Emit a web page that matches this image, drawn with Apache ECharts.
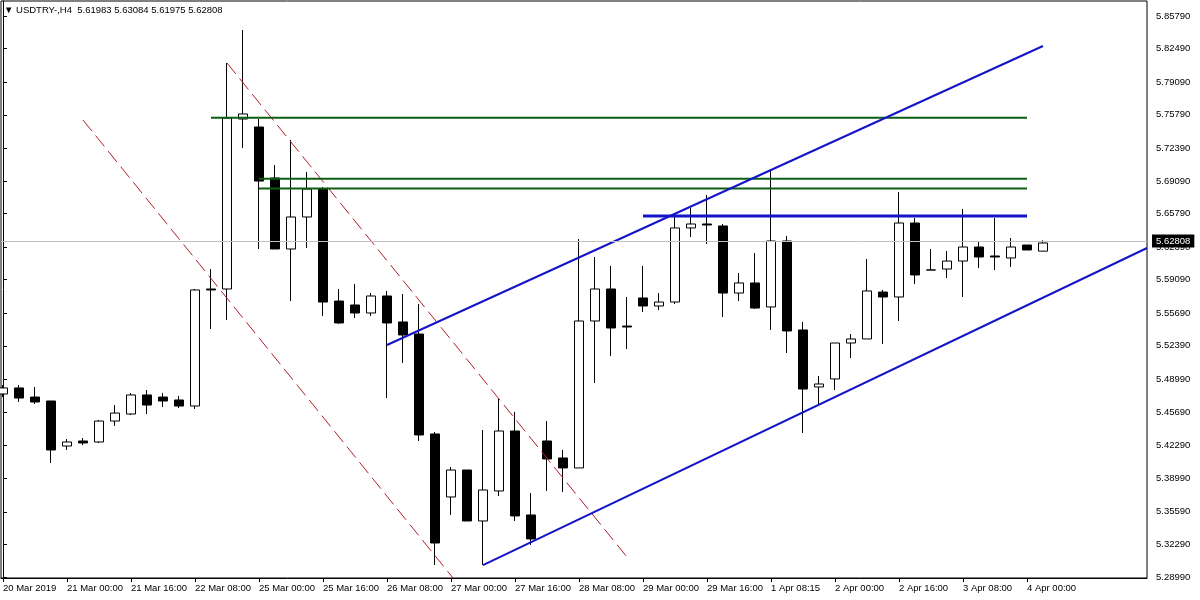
<!DOCTYPE html>
<html><head><meta charset="utf-8">
<script src="https://cdn.jsdelivr.net/npm/echarts@6/dist/echarts.min.js"></script>
<style>html,body{margin:0;padding:0;background:#fff}#c{width:1200px;height:600px}</style>
</head><body><div id="c"></div>
<script>
const FONT = 'Liberation Sans, Arial, sans-serif';
const titleText = '\u25BC USDTRY-,H4  5.61983 5.63084 5.61975 5.62808';
const xLabels = ['20 Mar 2019','21 Mar 00:00','21 Mar 16:00','22 Mar 08:00','25 Mar 00:00','25 Mar 16:00','26 Mar 08:00','27 Mar 00:00','27 Mar 16:00','28 Mar 08:00','29 Mar 00:00','29 Mar 16:00','1 Apr 08:15','2 Apr 00:00','2 Apr 16:00','3 Apr 08:00','4 Apr 00:00'];
const barsPerLabel = 4;
const yTickLabels = ['5.85790','5.82490','5.79090','5.75790','5.72390','5.69090','5.65790','5.62390','5.59090','5.55690','5.52390','5.48990','5.45690','5.42290','5.38990','5.35590','5.32290','5.28990'];

const opens  = [5.4752,5.4813,5.4721,5.4681,5.4225,5.4276,5.4266,5.4478,5.4549,5.4742,5.4721,5.4691,5.4630,5.5815,5.5815,5.7536,5.7455,5.6939,5.6220,5.6544,5.6827,5.5693,5.5653,5.5572,5.5744,5.5481,5.5359,5.4347,5.3709,5.3982,5.3466,5.3770,5.4377,5.3527,5.4276,5.4104,5.4003,5.5491,5.5815,5.5440,5.5724,5.5643,5.5683,5.6433,5.6473,5.6453,5.5774,5.5876,5.5633,5.6301,5.5400,5.4823,5.4904,5.5268,5.5309,5.5784,5.5734,5.6483,5.6008,5.6017,5.6098,5.6240,5.6149,5.6129,5.6260,5.61983];
const closes = [5.4813,5.4711,5.4671,5.4185,5.4266,5.4256,5.4478,5.4559,5.4742,5.4640,5.4681,5.4630,5.5805,5.5805,5.7546,5.7587,5.6908,5.6220,5.6544,5.6827,5.5683,5.5471,5.5572,5.5744,5.5471,5.5349,5.4337,5.3243,5.3982,5.3466,5.3780,5.4377,5.3517,5.3284,5.4094,5.4003,5.5491,5.5815,5.5420,5.5430,5.5643,5.5683,5.6433,5.6473,5.6463,5.5774,5.5876,5.5622,5.6301,5.5390,5.4802,5.4853,5.5268,5.5309,5.5795,5.5734,5.6483,5.5957,5.6007,5.6098,5.6240,5.6139,5.6139,5.6240,5.6210,5.62808];
const lows   = [5.4721,5.4671,5.4651,5.4053,5.4185,5.4235,5.4256,5.4428,5.4539,5.4549,5.4620,5.4610,5.4600,5.5410,5.5501,5.7243,5.6220,5.6220,5.5693,5.6230,5.5542,5.5460,5.5521,5.5542,5.4711,5.5066,5.4276,5.3020,5.3527,5.3466,5.3020,5.3719,5.3466,5.3223,5.3770,5.3760,5.4003,5.4863,5.5137,5.5207,5.5582,5.5602,5.5663,5.6341,5.6271,5.5531,5.5693,5.5612,5.5400,5.5167,5.4357,5.4640,5.4792,5.5116,5.5309,5.5258,5.5491,5.5865,5.6007,5.5926,5.5734,5.6027,5.6007,5.6038,5.6210,5.61975];
const highs  = [5.4843,5.4843,5.4823,5.4681,5.4296,5.4306,5.4489,5.4640,5.4762,5.4792,5.4762,5.4732,5.5815,5.6017,5.8103,5.8437,5.7536,5.7070,5.7324,5.7000,5.6848,5.5815,5.5865,5.5774,5.5795,5.5764,5.5663,5.4367,5.4013,5.3982,5.4387,5.4701,5.4570,5.3749,5.4478,5.4185,5.6321,5.6139,5.6048,5.5734,5.6048,5.5774,5.6544,5.6635,5.6767,5.6473,5.5977,5.6179,5.7020,5.6352,5.5481,5.4934,5.5268,5.5359,5.6119,5.5805,5.6797,5.6534,5.6220,5.6200,5.6625,5.6291,5.6534,5.6331,5.6260,5.63084];
const lastPrice = 5.62808;

// drawn objects: [barIndex, price] endpoints
const redChannelA  = [[5.0, 5.7526], [28.125, 5.2889]];
const redChannelB  = [[14.0, 5.8103], [39.0, 5.3101]];
const blueUpper    = [[24.0, 5.5248], [65.0, 5.8275]];
const blueLower    = [[30.0, 5.3020], [71.5, 5.6230]];
const blueLevel    = [[40, 5.6554], [64, 5.6554]];
const greenLevel1  = [[13, 5.7549], [64, 5.7549]];
const greenLevel2  = [[16, 5.6932], [64, 5.6932]];
const greenLevel3  = [[16, 5.6832], [64, 5.6832]];

const candleData = opens.map((o, i) => [i, o, closes[i], lows[i], highs[i]]);
const xTickValues = xLabels.map((_, k) => k * barsPerLabel);
const yTickValues = yTickLabels.map(s => parseFloat(s));

function lineSeries(data, color, width, dash) {
  return { type: 'line', data, symbol: 'none', silent: true, animation: false,
    lineStyle: { color, width, type: dash || 'solid' }, z: 3 };
}

const chart = echarts.init(document.getElementById('c'), null, { renderer: 'canvas' });
chart.setOption({
  animation: false,
  backgroundColor: '#fff',
  title: { text: titleText, left: 4, top: 5, padding: 0,
    textStyle: { fontSize: 9.5, fontWeight: 'normal', color: '#000', fontFamily: FONT } },
  grid: { left: 1, right: 53, top: 1, bottom: 22, show: true, borderColor: '#000', borderWidth: 1, backgroundColor: '#fff' },
  xAxis: {
    type: 'value', min: -0.125, max: 71.5,
    axisLine: { show: true, lineStyle: { color: '#000', width: 1 } },
    axisTick: { show: true, length: 4, lineStyle: { color: '#000' }, customValues: xTickValues },
    axisLabel: { show: true, customValues: xTickValues, align: 'left', margin: 5,
      color: '#000', fontSize: 9.5, fontFamily: FONT,
      formatter: v => xLabels[Math.round(v / barsPerLabel)] },
    splitLine: { show: false }
  },
  yAxis: {
    type: 'value', position: 'right', scale: true,
    min: 5.28887, max: 5.87309,
    axisLine: { show: true, lineStyle: { color: '#000', width: 1 } },
    axisTick: { show: true, length: 4, lineStyle: { color: '#000' }, customValues: yTickValues },
    axisLabel: { show: true, customValues: yTickValues, margin: 9, color: '#000',
      fontSize: 9.5, fontFamily: FONT, formatter: v => v.toFixed(5) },
    splitLine: { show: false }
  },
  series: [
    {
      type: 'candlestick', data: candleData, encode: { x: 0, y: [1, 2, 3, 4] },
      barWidth: 9,
      itemStyle: { color: '#fff', color0: '#000', borderColor: '#000', borderColor0: '#000', borderWidth: 1 },
      markLine: {
        silent: true, symbol: ['none', 'none'], animation: false,
        lineStyle: { color: '#c0c0c0', width: 1, type: 'solid' },
        label: { show: true, position: 'end', distance: 5, formatter: () => lastPrice.toFixed(5),
          color: '#fff', backgroundColor: '#000', padding: [2, 4, 1, 4], fontSize: 9.5, fontFamily: FONT },
        data: [{ yAxis: lastPrice }]
      },
      z: 2
    },
    lineSeries(redChannelA, '#b01e28', 1, [14, 6]),
    lineSeries(redChannelB, '#b01e28', 1, [14, 6]),
    lineSeries(greenLevel1, '#0d5e12', 2),
    lineSeries(greenLevel2, '#0d5e12', 2),
    lineSeries(greenLevel3, '#0d5e12', 2),
    lineSeries(blueUpper, '#1414c8', 2),
    lineSeries(blueLower, '#1414c8', 2),
    lineSeries(blueLevel, '#1414c8', 3)
  ]
});
</script>
</body></html>
